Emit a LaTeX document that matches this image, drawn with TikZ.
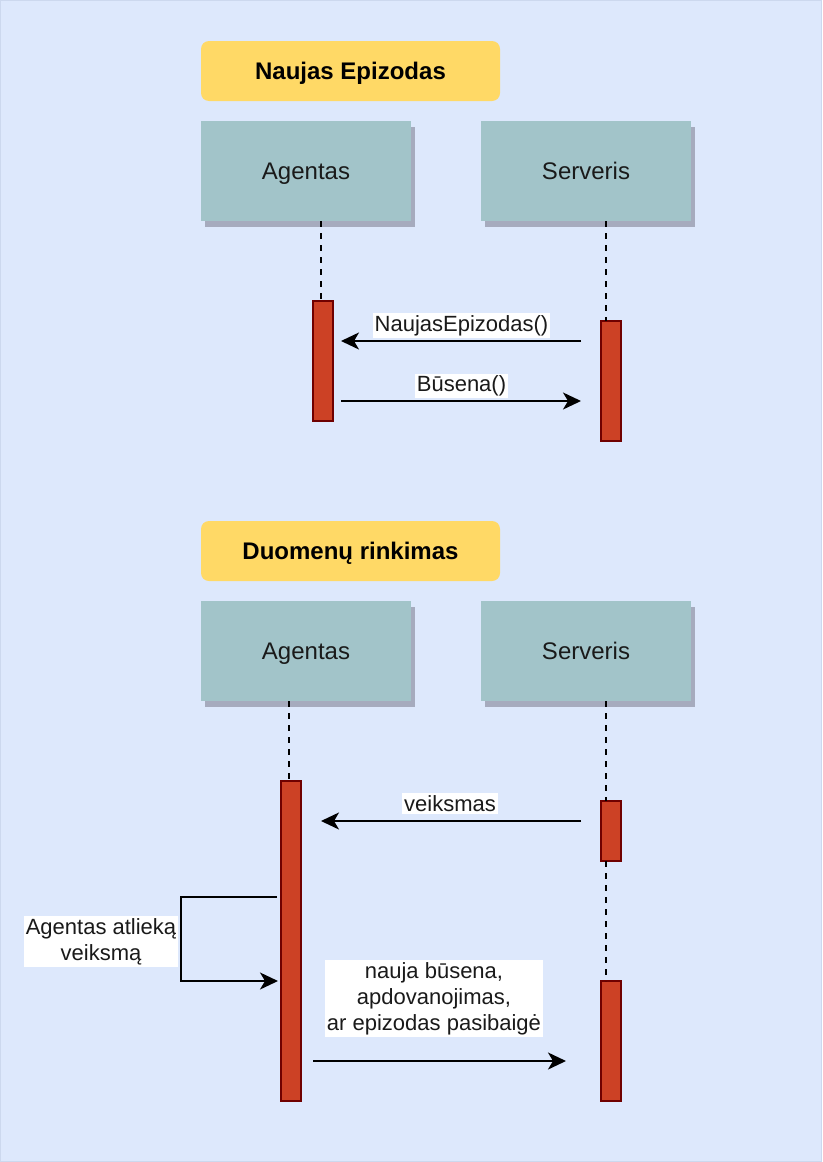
\documentclass[tikz,border=0pt]{standalone}
\usepackage{fontspec}
\setmainfont{Liberation Sans}
\usetikzlibrary{shadows,arrows.meta}
\definecolor{bgblue}{HTML}{DDE8FC}
\definecolor{bgline}{HTML}{CCD8EE}
\definecolor{titleyellow}{HTML}{FFD966}
\definecolor{actorfill}{HTML}{A2C4C9}
\definecolor{shadowgray}{HTML}{A6ABBE}
\definecolor{actfill}{HTML}{CC4125}
\definecolor{actline}{HTML}{6F0000}
\definecolor{txt}{HTML}{1A1A1A}
\tikzset{
  titlebox/.style={rectangle, rounded corners=8pt, fill=titleyellow, minimum width=299pt, minimum height=60pt, inner sep=0pt, text height=17.2pt, text depth=0pt, font=\fontsize{24}{28}\selectfont\bfseries, text=black},
  actorbox/.style={rectangle, fill=actorfill, minimum width=210pt, minimum height=100pt, inner sep=0pt, text height=17.2pt, text depth=0pt, font=\fontsize{24}{28}\selectfont, text=txt,
    drop shadow={shadow xshift=4pt, shadow yshift=-5.5pt, fill=shadowgray, opacity=1}},
  actbox/.style={rectangle, fill=actfill, draw=actline, line width=2pt, minimum width=20pt, inner sep=0pt},
  lifeline/.style={line width=2pt, dash pattern=on 6pt off 6pt, black},
  msg/.style={line width=2pt, black, -{Stealth[length=18pt, width=17pt, inset=5pt]}},
  lbl/.style={fill=white, inner xsep=2pt, inner ysep=2pt, font=\fontsize{22}{26}\selectfont, text=txt, align=center}
}
\begin{document}
\begin{tikzpicture}[x=1pt,y=-1pt]
\useasboundingbox (0,0) rectangle (822,1162);
\fill[bgblue, draw=bgline, line width=1pt] (0.5,0.5) rectangle (821.5,1161.5);

% ---------- Section 1 ----------
\node[titlebox] (t1) at (350.5,71) {Naujas Epizodas};
\node[actorbox] (ag1) at (306,171) {Agentas};
\node[actorbox] (sv1) at (586,171) {Serveris};

\node[actbox, minimum height=120pt] (a1) at (323,361) {};
\node[actbox, minimum height=120pt] (s1) at (610.5,381) {};

\coordinate (ll1a) at (321,221);
\coordinate (ll1b) at (321,301);
\coordinate (ll2a) at (606,221);
\coordinate (ll2b) at (606,321);
\draw[lifeline] (ll1a) -- (ll1b);
\draw[lifeline] (ll2a) -- (ll2b);

\coordinate (m1s) at (581,341);
\coordinate (m1e) at (341,341);
\coordinate (m2s) at (341,401);
\coordinate (m2e) at (581,401);
\draw[msg] (m1s) -- (m1e);
\draw[msg] (m2s) -- (m2e);
\node[lbl] (l1) at (461.5,325.5) {NaujasEpizodas()};
\node[lbl] (l2) at (461.5,386) {Būsena()};

% ---------- Section 2 ----------
\node[titlebox] (t2) at (350.5,551) {Duomenų rinkimas};
\node[actorbox] (ag2) at (306,651) {Agentas};
\node[actorbox] (sv2) at (586,651) {Serveris};

\node[actbox, minimum height=320pt] (a2) at (291,941) {};
\node[actbox, minimum height=60pt] (s2) at (610.5,831) {};
\node[actbox, minimum height=120pt] (s3) at (610.5,1041) {};

\coordinate (ll3a) at (289,701);
\coordinate (ll3b) at (289,781);
\coordinate (ll4a) at (606,701);
\coordinate (ll4b) at (606,801);
\coordinate (ll5a) at (606,861);
\coordinate (ll5b) at (606,981);
\draw[lifeline] (ll3a) -- (ll3b);
\draw[lifeline] (ll4a) -- (ll4b);
\draw[lifeline] (ll5a) -- (ll5b);

\coordinate (m3s) at (581,821);
\coordinate (m3e) at (321,821);
\draw[msg] (m3s) -- (m3e);
\node[lbl] (l3) at (450,803.5) {veiksmas};

\coordinate (lp1) at (277,897);
\coordinate (lp2) at (181,897);
\coordinate (lp3) at (181,981);
\coordinate (lp4) at (278,981);
\draw[line width=1.8pt, black, -{Stealth[length=18pt, width=17pt, inset=5pt]}] (lp1) -- (lp2) -- (lp3) -- (lp4);
\node[lbl] (l4) at (101,941.5) {Agentas atlieką\\veiksmą};

\coordinate (m4s) at (313,1061);
\coordinate (m4e) at (566,1061);
\draw[msg] (m4s) -- (m4e);
\node[lbl] (l5) at (434,998.5) {nauja būsena,\\apdovanojimas,\\ar epizodas pasibaigė};
\end{tikzpicture}
\end{document}
